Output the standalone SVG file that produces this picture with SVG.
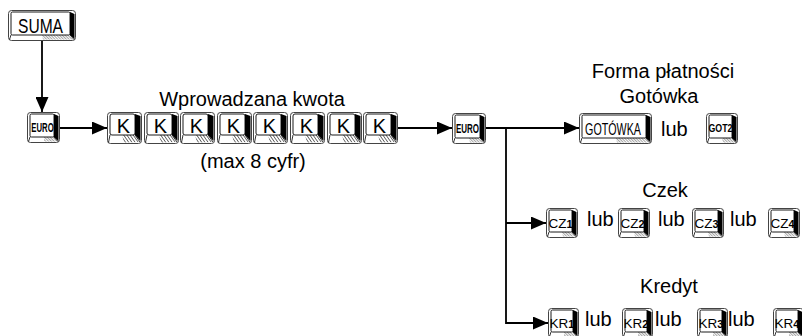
<svg xmlns="http://www.w3.org/2000/svg" xmlns:xlink="http://www.w3.org/1999/xlink" width="802" height="336" viewBox="0 0 802 336">
<style>
.ko{fill:#fff;stroke:#444;stroke-width:1}
.ks{fill:#000}
.kf{fill:#fff;stroke:#000;stroke-width:0.9}
.kh{fill:url(#hatch)}
.khk{fill:url(#hatchK)}
.kl{fill:none;stroke:#000;stroke-width:0.8}
.kt{font-family:"Liberation Sans",Arial,sans-serif;text-anchor:middle;fill:#000}
.lbl{font-family:"Liberation Sans",Arial,sans-serif;font-size:20px;fill:#000}
.mid{text-anchor:middle}
.con{fill:none;stroke:#000;stroke-width:1.8}
</style>
<defs>
<pattern id="hatch" width="2" height="2" patternUnits="userSpaceOnUse" patternTransform="rotate(-45)">
<line x1="0" y1="0" x2="0" y2="2" stroke="#000" stroke-width="0.7"/>
</pattern>
<pattern id="hatchK" width="2.6" height="2.6" patternUnits="userSpaceOnUse" patternTransform="rotate(-35)">
<line x1="0" y1="0" x2="0" y2="2.6" stroke="#000" stroke-width="1.1"/>
</pattern>
<marker id="arr" markerUnits="userSpaceOnUse" markerWidth="15" markerHeight="13" refX="15" refY="6.5" orient="auto">
<path d="M0,0 L15,6.5 L0,13 Z" fill="#000"/>
</marker>
<g id="keyK">
<rect class="ko" x="0.5" y="0.5" width="34" height="31" rx="3"/>
<path class="ks" d="M28,2 L33.5,4 L33.5,29 L28,23 Z"/>
<rect class="kf" x="3" y="2" width="25" height="21" rx="2"/>
<path class="khk" d="M15,23 L28,23 L33,30 L17,30.5 Z"/>
<path class="kl" d="M3,23 L1.5,30.5 M28,23 L33,30"/>
<text class="kt" x="16.5" y="21" font-size="20">K</text>
</g>
<g id="keyCZ">
<rect class="ko" x="0.5" y="0.5" width="31" height="29" rx="3"/>
<path class="ks" d="M26,2 L30.5,4 L30.5,28 L26,24 Z"/>
<rect class="kf" x="3" y="2" width="23" height="22" rx="1.5"/>
<path class="kh" d="M16,24 L26,24 L30,28.5 L17,28.5 Z"/>
<path class="kl" d="M3,24 L1.5,28.5 M26,24 L30,28.5"/>
</g>
<g id="keyKR">
<rect class="ko" x="0.5" y="0.5" width="30" height="29" rx="3"/>
<path class="ks" d="M25,2 L29.5,4 L29.5,28 L25,24 Z"/>
<rect class="kf" x="3" y="2" width="22" height="22" rx="1.5"/>
<path class="kh" d="M16,24 L25,24 L29,28.5 L16,28.5 Z"/>
<path class="kl" d="M3,24 L1.5,28.5 M25,24 L29,28.5"/>
</g>
</defs>

<g id="connectors">
<path class="con" d="M42,41 V112" marker-end="url(#arr)"/>
<path class="con" d="M60,128 H107" marker-end="url(#arr)"/>
<path class="con" d="M398,128 H452" marker-end="url(#arr)"/>
<path class="con" d="M486,128 H579" marker-end="url(#arr)"/>
<path class="con" d="M506,128 V323 H548" marker-end="url(#arr)"/>
<path class="con" d="M506,223 H546" marker-end="url(#arr)"/>
</g>

<g id="suma" transform="translate(8,10)">
<rect class="ko" x="0.5" y="0.5" width="67" height="30" rx="3"/>
<path class="ks" d="M62,2 L66.5,4 L66.5,29 L62,25 Z"/>
<rect class="kf" x="3" y="2" width="59" height="23" rx="1.5"/>
<path class="kh" d="M34,25 L62,25 L66,29.5 L35,29.5 Z"/>
<path class="kl" d="M3,25 L1.5,29.5 M62,25 L66,29.5"/>
<text class="kt" transform="translate(32.5,22.5) scale(0.78,1)" font-size="20">SUMA</text>
</g>

<g id="euro1" transform="translate(27,112)">
<rect class="ko" x="0.5" y="0.5" width="32" height="30" rx="3"/>
<path class="ks" d="M27,2 L31.5,4 L31.5,29 L27,25 Z"/>
<rect class="kf" x="3" y="2" width="24" height="23" rx="1.5"/>
<path class="kh" d="M17,25 L27,25 L31,29.5 L17,29.5 Z"/>
<path class="kl" d="M3,25 L1.5,29.5 M27,25 L31,29.5"/>
<text class="kt" transform="translate(15.5,20) scale(0.62,1)" font-size="12.5" font-weight="bold">EURO</text>
</g>

<g id="amount">
<text class="lbl mid" x="252" y="106">Wprowadzana kwota</text>
<g id="k1" transform="translate(107,112)"><use href="#keyK" xlink:href="#keyK"/></g>
<g id="k2" transform="translate(144,112)"><use href="#keyK" xlink:href="#keyK"/></g>
<g id="k3" transform="translate(180,112)"><use href="#keyK" xlink:href="#keyK"/></g>
<g id="k4" transform="translate(217,112)"><use href="#keyK" xlink:href="#keyK"/></g>
<g id="k5" transform="translate(253,112)"><use href="#keyK" xlink:href="#keyK"/></g>
<g id="k6" transform="translate(290,112)"><use href="#keyK" xlink:href="#keyK"/></g>
<g id="k7" transform="translate(327,112)"><use href="#keyK" xlink:href="#keyK"/></g>
<g id="k8" transform="translate(363,112)"><use href="#keyK" xlink:href="#keyK"/></g>
<text class="lbl mid" x="253" y="168">(max 8 cyfr)</text>
</g>

<g id="euro2" transform="translate(452,113)">
<rect class="ko" x="0.5" y="0.5" width="33" height="30" rx="3"/>
<path class="ks" d="M28,2 L32.5,4 L32.5,29 L28,25 Z"/>
<rect class="kf" x="3" y="2" width="25" height="23" rx="1.5"/>
<path class="kh" d="M17,25 L28,25 L32,29.5 L18,29.5 Z"/>
<path class="kl" d="M3,25 L1.5,29.5 M28,25 L32,29.5"/>
<text class="kt" transform="translate(15.5,20) scale(0.64,1)" font-size="12.5" font-weight="bold">EURO</text>
</g>

<g id="gotowka">
<text class="lbl mid" x="663" y="78">Forma płatności</text>
<text class="lbl mid" x="659" y="103">Gotówka</text>
<g id="key-gotowka" transform="translate(579,113)">
<rect class="ko" x="0.5" y="0.5" width="72" height="30" rx="3"/>
<path class="ks" d="M67,2 L71.5,4 L71.5,29 L67,25 Z"/>
<rect class="kf" x="3" y="2" width="64" height="23" rx="1.5"/>
<path class="kh" d="M37,25 L67,25 L71,29.5 L38,29.5 Z"/>
<path class="kl" d="M3,25 L1.5,29.5 M67,25 L71,29.5"/>
<text class="kt" transform="translate(34,22) scale(0.63,1)" font-size="17">GOTÓWKA</text>
</g>
<text class="lbl" x="661" y="136">lub</text>
<g id="key-got2" transform="translate(706,113)">
<rect class="ko" x="0.5" y="0.5" width="31" height="30" rx="3"/>
<path class="ks" d="M26,2 L30.5,4 L30.5,29 L26,25 Z"/>
<rect class="kf" x="3" y="2" width="23" height="23" rx="1.5"/>
<path class="kh" d="M16,25 L26,25 L30,29.5 L17,29.5 Z"/>
<path class="kl" d="M3,25 L1.5,29.5 M26,25 L30,29.5"/>
<text class="kt" transform="translate(14.5,19) scale(0.8,1)" font-size="11" font-weight="bold">GOT2</text>
</g>
</g>

<g id="czek">
<text class="lbl mid" x="665" y="197">Czek</text>
<g id="cz1" transform="translate(546,208)"><use href="#keyCZ" xlink:href="#keyCZ"/><text class="kt" x="14.5" y="19.5" font-size="13.5">CZ<tspan font-size="11" font-weight="bold">1</tspan></text></g>
<text class="lbl" x="587" y="226">lub</text>
<g id="cz2" transform="translate(618,208)"><use href="#keyCZ" xlink:href="#keyCZ"/><text class="kt" x="14.5" y="19.5" font-size="13.5">CZ<tspan font-size="11" font-weight="bold">2</tspan></text></g>
<text class="lbl" x="658" y="226">lub</text>
<g id="cz3" transform="translate(692,208)"><use href="#keyCZ" xlink:href="#keyCZ"/><text class="kt" x="14.5" y="19.5" font-size="13.5">CZ<tspan font-size="11" font-weight="bold">3</tspan></text></g>
<text class="lbl" x="730" y="226">lub</text>
<g id="cz4" transform="translate(768,208)"><use href="#keyCZ" xlink:href="#keyCZ"/><text class="kt" x="14.5" y="19.5" font-size="13.5">CZ<tspan font-size="11" font-weight="bold">4</tspan></text></g>
</g>

<g id="kredyt">
<text class="lbl mid" x="669" y="293">Kredyt</text>
<g id="kr1" transform="translate(548,308)"><use href="#keyKR" xlink:href="#keyKR"/><text class="kt" x="14" y="19.5" font-size="13.5">KR<tspan font-size="11" font-weight="bold">1</tspan></text></g>
<text class="lbl" x="585" y="326">lub</text>
<g id="kr2" transform="translate(622,308)"><use href="#keyKR" xlink:href="#keyKR"/><text class="kt" x="14" y="19.5" font-size="13.5">KR<tspan font-size="11" font-weight="bold">2</tspan></text></g>
<text class="lbl" x="655" y="326">lub</text>
<g id="kr3" transform="translate(697,308)"><use href="#keyKR" xlink:href="#keyKR"/><text class="kt" x="14" y="19.5" font-size="13.5">KR<tspan font-size="11" font-weight="bold">3</tspan></text></g>
<text class="lbl" x="728" y="326">lub</text>
<g id="kr4" transform="translate(773,308)"><use href="#keyKR" xlink:href="#keyKR"/><text class="kt" x="14" y="19.5" font-size="13.5">KR<tspan font-size="11" font-weight="bold">4</tspan></text></g>
</g>
</svg>
